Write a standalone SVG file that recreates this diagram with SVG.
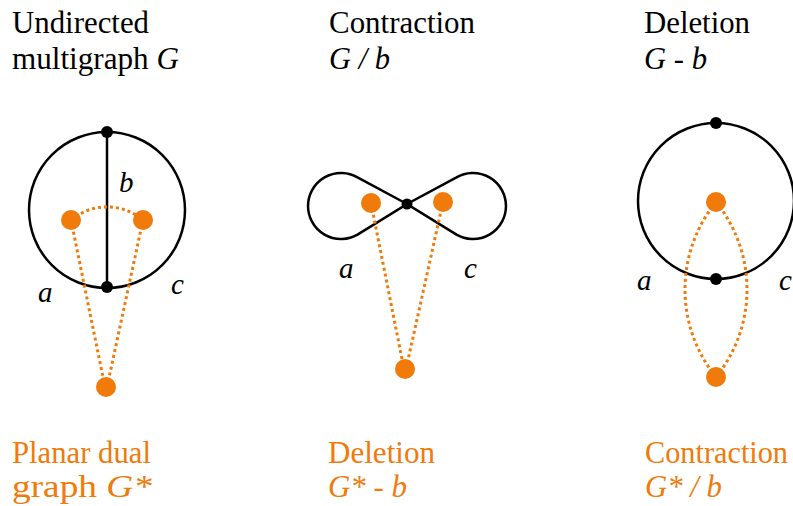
<svg xmlns="http://www.w3.org/2000/svg" width="793" height="506" viewBox="0 0 793 506">
<style>
.t{font-size:31px;fill:#000}
.l{font-size:29px;fill:#000}
.o{fill:#f07a0a}
.i{font-style:italic}
.edge{fill:none;stroke:#000;stroke-width:2.5}
.dual{fill:none;stroke:#f07a0a;stroke-width:3;stroke-dasharray:3 3}
.v{fill:#000}
.dv{fill:#f07a0a}
</style>
<rect width="793" height="506" fill="#fff"/>
<g id="titles" font-family="Liberation Serif, DejaVu Serif, serif">
<text class="t" font-family="Liberation Serif, serif" x="12" y="33" textLength="137" lengthAdjust="spacingAndGlyphs">Undirected</text>
<text class="t" font-family="Liberation Serif, serif" x="12" y="69" textLength="167" lengthAdjust="spacingAndGlyphs">multigraph <tspan class="i">G</tspan></text>
<text class="t" font-family="Liberation Serif, serif" x="329" y="33" textLength="146" lengthAdjust="spacingAndGlyphs">Contraction</text>
<text class="t i" font-family="Liberation Serif, serif" x="329" y="69" textLength="61" lengthAdjust="spacingAndGlyphs">G / b</text>
<text class="t" font-family="Liberation Serif, serif" x="644" y="33" textLength="106" lengthAdjust="spacingAndGlyphs">Deletion</text>
<text class="t" font-family="Liberation Serif, serif" x="644" y="69" textLength="63" lengthAdjust="spacingAndGlyphs"><tspan class="i">G</tspan> - <tspan class="i">b</tspan></text>
<text class="t o" font-family="Liberation Serif, serif" x="12" y="463" textLength="139" lengthAdjust="spacingAndGlyphs">Planar dual</text>
<text class="t o" font-family="Liberation Serif, serif" x="12" y="497" textLength="140" lengthAdjust="spacingAndGlyphs">graph <tspan class="i">G*</tspan></text>
<text class="t o" font-family="Liberation Serif, serif" x="328" y="463" textLength="107" lengthAdjust="spacingAndGlyphs">Deletion</text>
<text class="t o" font-family="Liberation Serif, serif" x="328" y="497" textLength="79" lengthAdjust="spacingAndGlyphs"><tspan class="i">G*</tspan> - <tspan class="i">b</tspan></text>
<text class="t o" font-family="Liberation Serif, serif" x="645" y="463" textLength="143" lengthAdjust="spacingAndGlyphs">Contraction</text>
<text class="t o i" font-family="Liberation Serif, serif" x="645" y="497" textLength="77" lengthAdjust="spacingAndGlyphs">G* / b</text>
</g>
<g id="connectors">
<circle class="edge" cx="107" cy="210" r="78"/>
<line class="edge" x1="107" y1="132" x2="107" y2="287"/>
<path class="dual" d="M71,220 A56,56 0 0 1 143,220"/>
<line class="dual" x1="71" y1="220" x2="105" y2="387"/>
<line class="dual" x1="143" y1="220" x2="107" y2="387"/>
<path class="edge" d="M407,204 L357.5,177.4 A33,33 0 1 0 357.5,234.6 Z"/>
<path class="edge" d="M407,204 L456.5,177.4 A33,33 0 1 1 456.5,234.6 Z"/>
<line class="dual" x1="371" y1="203" x2="404" y2="369"/>
<line class="dual" x1="443" y1="202" x2="406" y2="369"/>
<circle class="edge" cx="716" cy="201" r="78"/>
<path class="dual" d="M716,202 A139,139 0 0 0 716,377"/>
<path class="dual" d="M716,202 A139,139 0 0 1 716,377"/>
</g>
<g id="edge-labels" font-family="Liberation Serif, serif">
<text class="l i" font-family="Liberation Serif, serif" x="119" y="192">b</text>
<text class="l i" font-family="Liberation Serif, serif" x="38" y="302">a</text>
<text class="l i" font-family="Liberation Serif, serif" x="171" y="294">c</text>
<text class="l i" font-family="Liberation Serif, serif" x="339" y="278">a</text>
<text class="l i" font-family="Liberation Serif, serif" x="464" y="278">c</text>
<text class="l i" font-family="Liberation Serif, serif" x="637" y="290">a</text>
<text class="l i" font-family="Liberation Serif, serif" x="779" y="290">c</text>
</g>
<g id="g-top"><circle class="v" cx="107" cy="132" r="6"/></g>
<g id="g-bottom"><circle class="v" cx="107" cy="287" r="6"/></g>
<g id="g-dual-a"><circle class="dv" cx="71" cy="220" r="10"/></g>
<g id="g-dual-c"><circle class="dv" cx="143" cy="220" r="10"/></g>
<g id="g-dual-outer"><circle class="dv" cx="106" cy="387" r="10"/></g>
<g id="c-merged"><circle class="v" cx="407" cy="204" r="5.5"/></g>
<g id="c-dual-a"><circle class="dv" cx="371" cy="203" r="10"/></g>
<g id="c-dual-c"><circle class="dv" cx="443" cy="202" r="10"/></g>
<g id="c-dual-outer"><circle class="dv" cx="405" cy="369" r="10"/></g>
<g id="d-top"><circle class="v" cx="716" cy="123" r="6"/></g>
<g id="d-bottom"><circle class="v" cx="716" cy="279" r="6"/></g>
<g id="d-dual-inner"><circle class="dv" cx="716" cy="202" r="10"/></g>
<g id="d-dual-outer"><circle class="dv" cx="716" cy="377" r="10"/></g>
</svg>
